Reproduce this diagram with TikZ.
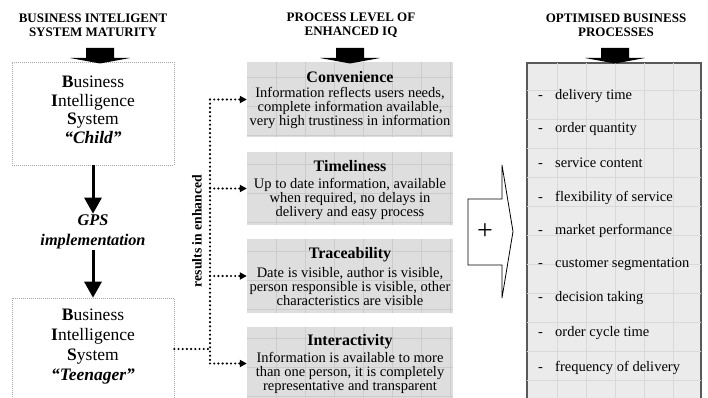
\documentclass[tikz,border=0pt]{standalone}
\usepackage{fontspec}
\setmainfont{Liberation Serif}
\usetikzlibrary{arrows.meta}
\begin{document}
\begin{tikzpicture}[x=1pt,y=-1pt,
  hdr/.style={font=\fontsize{13}{14}\selectfont\bfseries, align=center, inner sep=0pt},
  bisbox/.style={draw=black!35, line width=0.6pt, dash pattern=on 1pt off 1pt, minimum width=162pt, inner sep=0pt},
  bistext/.style={font=\fontsize{17.5}{18.5}\selectfont, align=center, inner sep=0pt},
  midbox/.style={fill=black!13, draw=none, minimum width=206pt, inner sep=0pt},
  midtitle/.style={font=\fontsize{16}{17}\selectfont\bfseries, inner sep=0pt},
  midbody/.style={font=\fontsize{14.5}{14}\selectfont, align=center, inner sep=0pt},
  item/.style={font=\fontsize{14.5}{16}\selectfont, anchor=base west, inner sep=0pt},
  gridl/.style={black!20, line width=0.5pt},
  dots/.style={line width=2.4pt, dash pattern=on 0pt off 4.2pt, line cap=round},
  dotarrow/.style={dots, -{Triangle[length=7pt,width=7pt]}},
  bigarrow/.style={line width=3pt, -{Triangle[length=16pt,width=17pt]}},
]
\useasboundingbox (0,0) rectangle (708,398);
\clip (0,0) rectangle (708,398);

% headers
\node[hdr] (h1) at (93,25) {BUSINESS INTELIGENT\\SYSTEM MATURITY};
\node[hdr] (h2) at (351,25) {PROCESS LEVEL OF\\ENHANCED IQ};
\node[hdr] (h3) at (616,25) {OPTIMISED BUSINESS\\PROCESSES};

% left column
\node[bisbox, minimum height=103pt] (child) at (93,113.5) {};
\node[bistext] (childtxt) at (93,110) {\textbf{B}usiness\\\textbf{I}ntelligence\\\textbf{S}ystem\\\textbf{\textit{“Child”}}};
\node[font=\fontsize{16.3}{20}\selectfont\bfseries\itshape, align=center, inner sep=1pt] (gps) at (93,232) {GPS\\implementation};
\node[bisbox, minimum height=102pt] (teen) at (93,349) {};
\node[bistext, font=\fontsize{17.5}{20}\selectfont] (teentxt) at (93,346.5) {\textbf{B}usiness\\\textbf{I}ntelligence\\\textbf{S}ystem\\\textbf{\textit{“Teenager”}}};
\draw[bigarrow] (child.south) -- (gps.north);
\draw[bigarrow] (gps.south) -- (teen.north);

% middle column
\node[midbox, minimum height=75pt] (conv) at (350,99.5) {};
\node[midbox, minimum height=73pt] (time) at (350,188.5) {};
\node[midbox, minimum height=74pt] (trace) at (350,276) {};
\node[midbox, minimum height=73pt] (inter) at (350,363.5) {};
\begin{scope}
\clip (conv.north west) rectangle (conv.south east)
      (time.north west) rectangle (time.south east)
      (trace.north west) rectangle (trace.south east)
      (inter.north west) rectangle (inter.south east);
\foreach \gx in {276,305,...,450} \draw[gridl] (\gx,60) -- (\gx,400);
\foreach \gy in {77,106,...,400} \draw[gridl] (245,\gy) -- (455,\gy);
\end{scope}

\node[midtitle] (convT) at (350,77.5) {Convenience};
\node[midbody] (convB) at (350,108) {Information reflects users needs,\\complete information available,\\very high trustiness in information};
\node[midtitle] (timeT) at (350,166) {Timeliness};
\node[midbody] (timeB) at (350,199) {Up to date information, available\\when required, no delays in\\delivery and easy process};
\node[midtitle] (traceT) at (350,255) {Traceability};
\node[midbody] (traceB) at (350,286.5) {Date is visible, author is visible,\\person responsible is visible, other\\characteristics are visible};
\node[midtitle] (interT) at (350,342) {Interactivity};
\node[midbody] (interB) at (350,372.5) {Information is available to more\\than one person, it is completely\\representative and transparent};

% dotted connectors
\coordinate (jin) at (210,349);
\coordinate (jtop) at (210,99.5);
\coordinate (jbot) at (210,363.5);
\draw[dots] (teen.east) -- (jin);
\draw[dots] (jtop) -- (jbot);
\draw[dotarrow] (jtop) -- (conv.west);
\draw[dotarrow] (time.west -| jtop) -- (time.west);
\draw[dotarrow] (trace.west -| jtop) -- (trace.west);
\draw[dotarrow] (jbot) -- (inter.west);
\node[font=\fontsize{13.7}{14}\selectfont\bfseries, rotate=90, inner sep=0pt] (res) at (197,231) {results in enhanced};

% plus arrow
\draw[line width=0.8pt, fill=white, line join=miter] (468,199) -- (502,199) -- (502,165) -- (513,231.5) -- (502,298) -- (502,265) -- (468,265) -- cycle;
\node[font=\fontsize{28}{28}\selectfont, inner sep=0pt] (plus) at (485,232) {+};

% right column
\node[draw=black!65, line width=1.2pt, fill=black!8, minimum width=174pt, minimum height=340pt, inner sep=0pt] (opt) at (614,233) {};
\begin{scope}
\clip (opt.north west) rectangle (opt.south east);
\foreach \gx in {557,586,...,700} \draw[gridl, black!15] (\gx,60) -- (\gx,400);
\foreach \gy in {90,119,...,400} \draw[gridl, black!15] (525,\gy) -- (705,\gy);
\end{scope}
\draw[draw=black!65, line width=1.2pt] (opt.north west) rectangle (opt.south east);
\foreach \t/\yy [count=\i] in {delivery time/99.5, order quantity/132.5, service content/167.5, flexibility of service/201.5, market performance/234.5, customer segmentation/267.5, decision taking/301.5, order cycle time/336.5, frequency of delivery/371.5} {
  \node[item] (dash\i) at (538,\yy) {-};
  \node[item] (item\i) at (555,\yy) {\t};
}

% header arrows
\foreach \cx in {100,350,615}
  \fill (\cx-14,48) -- (\cx+14,48) -- (\cx+14,58) -- (\cx+30,58) -- (\cx,63.5) -- (\cx-30,58) -- (\cx-14,58) -- cycle;
\end{tikzpicture}
\end{document}
